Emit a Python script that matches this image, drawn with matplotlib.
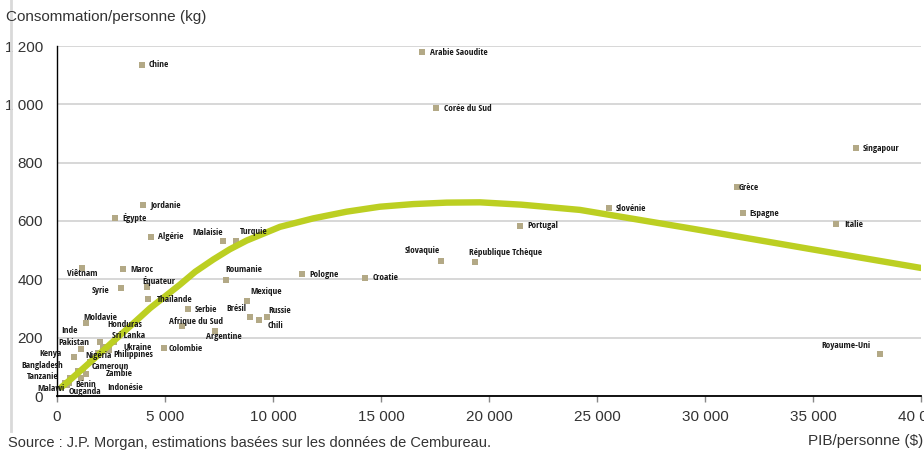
import matplotlib
matplotlib.use("Agg")
import matplotlib.pyplot as plt
from matplotlib.ticker import FuncFormatter, MultipleLocator
from matplotlib.lines import Line2D

# pays, PIB/personne ($), consommation de ciment/personne (kg)
pays = [
    "Chine", "Arabie Saoudite", "Corée du Sud", "Singapour", "Grèce", "Slovénie",
    "Espagne", "Italie", "Portugal", "Slovaquie", "République Tchèque", "Pologne",
    "Croatie", "Roumanie", "Malaisie", "Turquie", "Mexique", "Brésil", "Russie",
    "Chili", "Serbie", "Afrique du Sud", "Argentine", "Colombie", "Jordanie",
    "Égypte", "Algérie", "Maroc", "Équateur", "Syrie", "Viêtnam", "Thaïlande",
    "Royaume-Uni", "Moldavie", "Honduras", "Sri Lanka", "Inde", "Pakistan",
    "Ukraine", "Philippines", "Kenya", "Nigéria", "Bangladesh", "Cameroun",
    "Zambie", "Tanzanie", "Bénin", "Indonésie", "Malawi", "Ouganda",
]
pib = [
    3935, 16884, 17546, 36990, 31481, 25542,
    31745, 36065, 21435, 17778, 19338, 11356,
    14259, 7810, 7671, 8301, 8782, 8935, 9738,
    9352, 6051, 5787, 7315, 4954, 3995,
    2685, 4338, 3056, 4167, 2963, 1171, 4199,
    38116, 1343, 1991, 2662, 1884, 1111,
    2130, 2421, 801, 1528, 972, 1204,
    1343, 602, 1111, 556, 370, 486,
]
conso = [
    1135, 1179, 987, 849, 716, 644,
    626, 589, 583, 463, 459, 418,
    405, 398, 531, 533, 325, 272, 270,
    261, 298, 240, 224, 165, 654,
    611, 546, 435, 374, 369, 438, 332,
    144, 252, 186, 185, 146, 160,
    168, 158, 135, 117, 87, 89,
    77, 61, 63, 45, 45, 38,
]

# courbe de tendance
courbe_x = [200, 602, 1218, 1991, 2764, 3532, 4306, 5079, 5694, 6400, 7236, 8000,
            8782, 10324, 11866, 13412, 14954, 16495, 18042, 19583, 21500, 24213,
            29458, 34708, 40000]
courbe_y = [30, 55, 95, 146, 198, 249, 301, 346, 382, 426, 468, 503,
            533, 580, 609, 632, 649, 658, 663, 664, 656, 638,
            573, 506, 439]

# placement des étiquettes : décalage en pixels (dx, dy) et alignement
etiquettes = {
    "Chine": (7, 0, "left"), "Arabie Saoudite": (8, 0, "left"),
    "Corée du Sud": (8, 0, "left"), "Singapour": (7, 0, "left"),
    "Grèce": (2, 0, "left"), "Slovénie": (7, 0, "left"),
    "Espagne": (7, 0, "left"), "Italie": (8, 0, "left"),
    "Portugal": (7, 0, "left"), "Slovaquie": (-1, 10, "right"),
    "République Tchèque": (-6, 9.5, "left"), "Pologne": (7, 0, "left"),
    "Croatie": (8, 0, "left"), "Roumanie": (0, 10, "left"),
    "Malaisie": (0, 9, "right"), "Turquie": (4, 9, "left"),
    "Mexique": (4, 10, "left"), "Brésil": (-4, 8, "right"),
    "Russie": (1, 7, "left"), "Chili": (9, -6, "left"),
    "Serbie": (7, 0, "left"), "Afrique du Sud": (14, 5, "center"),
    "Argentine": (9, -6, "center"), "Colombie": (5, -1, "left"),
    "Jordanie": (7, 0, "left"), "Égypte": (7, 0, "left"),
    "Algérie": (7, 0, "left"), "Maroc": (7, 0, "left"),
    "Équateur": (-5, 6, "left"), "Syrie": (-12, -2, "right"),
    "Viêtnam": (-15, -5, "left"), "Thaïlande": (9, 0, "left"),
    "Royaume-Uni": (-10, 9, "right"), "Moldavie": (-3, 5, "left"),
    "Honduras": (7, 17.7, "left"), "Sri Lanka": (-2, 7, "left"),
    "Inde": (-20.4, 22.6, "right"), "Pakistan": (-7.5, 6.6, "center"),
    "Ukraine": (20, 0, "left"), "Philippines": (3.7, -4.3, "left"),
    "Kenya": (-12.3, 3, "right"), "Nigéria": (-5, 6, "left"),
    "Bangladesh": (-15.3, 5.5, "right"), "Cameroun": (8.7, 3.3, "left"),
    "Zambie": (20, 0, "left"), "Tanzanie": (-11.7, 1.6, "right"),
    "Bénin": (-6, -6.5, "left"), "Indonésie": (38.3, -4.3, "left"),
    "Malawi": (0, -6, "right"), "Ouganda": (1, -6.7, "left"),
}

W, H = 924, 450
fig = plt.figure(figsize=(W / 100, H / 100), dpi=100)
ax = fig.add_axes([57 / W, 1 - 396 / H, 864 / W, 350 / H])

ax.set_xlim(0, 40000)
ax.set_ylim(0, 1200)
ax.xaxis.set_major_locator(MultipleLocator(5000))
ax.yaxis.set_major_locator(MultipleLocator(200))
fmt = FuncFormatter(lambda v, p: f"{int(v):,}".replace(",", " "))
ax.xaxis.set_major_formatter(fmt)
ax.yaxis.set_major_formatter(fmt)

ax.grid(axis="y", color="#d4d4d4", linewidth=1.3, zorder=0)
ax.set_axisbelow(True)
for s in ["top", "right"]:
    ax.spines[s].set_visible(False)
ax.spines["left"].set_color("black")
ax.spines["left"].set_linewidth(1.0)
ax.spines["bottom"].set_color("black")
ax.spines["bottom"].set_linewidth(1.3)

tick_font = ["Liberation Sans", "DejaVu Sans"]
ax.tick_params(axis="y", length=0, pad=10, labelsize=11, labelcolor="#333333")
ax.tick_params(axis="x", length=4, width=1, color="#888888", pad=6,
               labelsize=11, labelcolor="#333333")
for lab in ax.get_xticklabels() + ax.get_yticklabels():
    lab.set_fontfamily(tick_font)

ax.scatter(pib, conso, marker="s", s=14, color="#b3a986", linewidths=0, zorder=3)
ax.plot(courbe_x, courbe_y, color="#bccf22", linewidth=4.6,
        solid_capstyle="round", solid_joinstyle="round", zorder=4)

label_font = ["Open Sans Condensed", "IBM Plex Sans Condensed",
              "Liberation Sans Narrow", "DejaVu Sans Condensed"]
for nom, x, y in zip(pays, pib, conso):
    dx, dy, ha = etiquettes[nom]
    ax.annotate(nom, (x, y), xytext=(dx, dy), textcoords="offset pixels",
                ha=ha, va="center", fontsize=6.7, fontweight="bold",
                color="#1a1a1a", family=label_font, zorder=5)

fig.text(6 / W, 1 - 17 / H, "Consommation/personne (kg)", ha="left", va="center",
         fontsize=11, color="#333333", family=tick_font)
fig.text(808 / W, 1 - 441 / H, "PIB/personne ($)", ha="left", va="center",
         fontsize=11, color="#333333", family=tick_font)
fig.text(8 / W, 1 - 443 / H,
         "Source : J.P. Morgan, estimations basées sur les données de Cembureau.",
         ha="left", va="center", fontsize=10.5, color="#333333", family=tick_font)

fig.add_artist(Line2D([11 / W, 11 / W], [1 - 431 / H, 1], transform=fig.transFigure,
                      color="#d9d9d9", linewidth=2))

fig.savefig("out.png", dpi=100)
